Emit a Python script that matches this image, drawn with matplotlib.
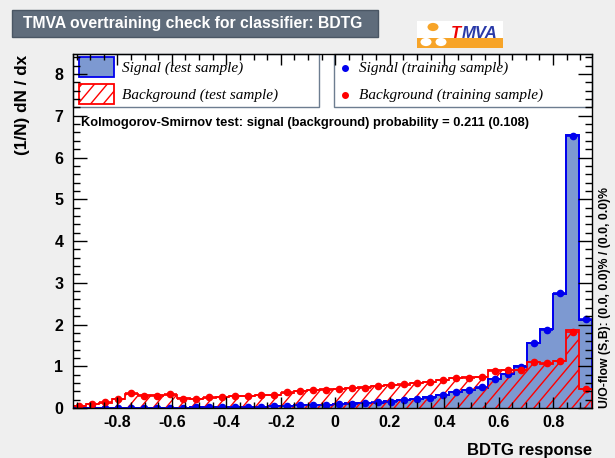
import numpy as np
import matplotlib.pyplot as plt
from matplotlib.patches import Rectangle, Circle
from matplotlib.collections import LineCollection
from matplotlib.transforms import IdentityTransform
from matplotlib.ticker import MultipleLocator, FuncFormatter

plt.rcParams['font.family'] = ['Liberation Sans', 'DejaVu Sans']
plt.rcParams['font.weight'] = 'bold'
plt.rcParams['axes.unicode_minus'] = False

# BDTG response range and binning
x_lo, x_hi = -0.963, 0.943
n_bins = 40

sig_test = [0.01, 0.01, 0.01, 0.01, 0.01, 0.01, 0.01, 0.01, 0.01, 0.02,
            0.02, 0.02, 0.03, 0.03, 0.03, 0.04, 0.05, 0.06, 0.07, 0.08,
            0.09, 0.11, 0.12, 0.13, 0.16, 0.18, 0.22, 0.26, 0.30, 0.39,
            0.44, 0.49, 0.70, 0.82, 1.00, 1.56, 1.89, 2.74, 6.55, 2.10]
sig_train = [0.01, 0.01, 0.01, 0.01, 0.01, 0.01, 0.01, 0.01, 0.01, 0.02,
             0.02, 0.02, 0.03, 0.03, 0.03, 0.04, 0.05, 0.06, 0.07, 0.08,
             0.09, 0.10, 0.12, 0.14, 0.15, 0.19, 0.22, 0.25, 0.31, 0.38,
             0.43, 0.50, 0.69, 0.81, 0.99, 1.55, 1.88, 2.76, 6.52, 2.13]
bkg_test = [0.05, 0.09, 0.13, 0.22, 0.33, 0.30, 0.30, 0.31, 0.23, 0.22,
            0.25, 0.27, 0.28, 0.29, 0.30, 0.32, 0.37, 0.40, 0.43, 0.45,
            0.46, 0.47, 0.50, 0.52, 0.55, 0.56, 0.60, 0.62, 0.68, 0.72,
            0.74, 0.75, 0.92, 0.91, 0.90, 1.10, 1.06, 1.12, 1.88, 0.46]
bkg_train = [0.056, 0.088, 0.136, 0.21, 0.37, 0.29, 0.29, 0.33, 0.22, 0.22,
             0.26, 0.26, 0.28, 0.29, 0.30, 0.31, 0.38, 0.41, 0.43, 0.44,
             0.45, 0.47, 0.49, 0.53, 0.54, 0.57, 0.59, 0.63, 0.67, 0.73,
             0.73, 0.75, 0.89, 0.91, 0.91, 1.09, 1.07, 1.13, 1.83, 0.45]

edges = np.linspace(x_lo, x_hi, n_bins + 1)
centers = 0.5 * (edges[:-1] + edges[1:])
half_w = 0.5 * (edges[1] - edges[0])

W, H = 615, 458
fig = plt.figure(figsize=(W / 100, H / 100), dpi=100, facecolor='#efefef')


def fx(x):
    return x / W


def fy(y):
    return 1 - y / H


def root_hatch(axes, clip_patch, color, spacing=12.7, angle=50):
    # ROOT style 3554 hatching: single direction lines, clipped to a patch
    run = H / np.tan(np.radians(angle))
    offs = np.arange(-run - spacing, W + spacing, spacing)
    segs = [[(o, 0), (o + run, H)] for o in offs]
    lc = LineCollection(segs, colors=color, linewidths=1, transform=IdentityTransform(),
                        zorder=clip_patch.get_zorder())
    axes.add_collection(lc, autolim=False)
    lc.set_clip_path(clip_patch)


ax = fig.add_axes([fx(73), fy(408), fx(592) - fx(73), fy(54) - fy(408)])
ax.set_xlim(x_lo, x_hi)
ax.set_ylim(0, 8.48)
ax.set_axisbelow(False)

ax.stairs(sig_test, edges, fill=True, facecolor='#7d99d1', edgecolor='#0000ee', lw=1.3, zorder=1.0)
ax.stairs(sig_test, edges, baseline=None, color='#0000ee', lw=1.3, zorder=1.05)
bkg_fill = ax.stairs(bkg_test, edges, fill=True, facecolor='none', edgecolor='none', zorder=1.1)
root_hatch(ax, bkg_fill, '#ff0000')
ax.stairs(bkg_test, edges, color='#ff0000', lw=1.3, zorder=1.15)
ax.errorbar(centers, sig_train, xerr=half_w, fmt='o', ms=4.5, color='#0000ee', lw=1.2, zorder=1.2)
ax.errorbar(centers, bkg_train, xerr=half_w, fmt='o', ms=4.5, color='#ff0000', lw=1.2, zorder=1.2)

ax.xaxis.set_major_locator(MultipleLocator(0.2))
ax.xaxis.set_minor_locator(MultipleLocator(0.05))
ax.yaxis.set_major_locator(MultipleLocator(1))
ax.yaxis.set_minor_locator(MultipleLocator(0.2))
ax.xaxis.set_major_formatter(FuncFormatter(lambda v, p: '%g' % round(v, 2)))
ax.xaxis.set_tick_params(which='major', direction='in', top=True, length=8, width=1, labelsize=11.5, pad=5)
ax.xaxis.set_tick_params(which='minor', direction='in', top=True, length=4, width=1)
ax.yaxis.set_tick_params(which='major', direction='in', right=True, length=10, width=1, labelsize=11.5, pad=7)
ax.yaxis.set_tick_params(which='minor', direction='in', right=True, length=5, width=1)
for s in ax.spines.values():
    s.set_linewidth(1)
    s.set_zorder(3)

ax.text(1.0, -0.1, 'BDTG response', transform=ax.transAxes, ha='right', va='top', fontsize=12)
fig.text(fx(23), fy(55), '(1/N) dN / dx', rotation=90, ha='center', va='top', fontsize=12.3)
fig.text(fx(605), fy(408), 'U/O-flow (S,B): (0.0, 0.0)% / (0.0, 0.0)%', rotation=90,
         ha='center', va='bottom', fontsize=8.8)
fig.text(fx(81), fy(123), 'Kolmogorov-Smirnov test: signal (background) probability = 0.211 (0.108)',
         ha='left', va='center', fontsize=9.3)

# legends
box_col = '#6d7d90'
tf = fig.transFigure
for x0, x1 in [(73, 319), (334, 592)]:
    ax.add_patch(Rectangle((fx(x0), fy(107)), fx(x1) - fx(x0), fy(54) - fy(107), transform=tf,
                           facecolor='white', edgecolor=box_col, lw=1, zorder=1.3, clip_on=False))
ax.add_patch(Rectangle((fx(79), fy(77)), fx(114) - fx(79), fy(57) - fy(77), transform=tf,
                       facecolor='#7d99d1', edgecolor='#0000ee', lw=1.3, zorder=1.35, clip_on=False))
sw = Rectangle((fx(79), fy(104)), fx(114) - fx(79), fy(84) - fy(104), transform=tf,
               facecolor='white', edgecolor='#ff0000', lw=1.3, zorder=1.35, clip_on=False)
ax.add_patch(sw)
root_hatch(ax, sw, '#ff0000')
ax.plot([fx(345)], [fy(68)], 'o', ms=4, color='#0000ee', transform=tf, zorder=1.35, clip_on=False)
ax.plot([fx(345)], [fy(95)], 'o', ms=4, color='#ff0000', transform=tf, zorder=1.35, clip_on=False)
leg_font = dict(family='Liberation Serif', style='italic', weight='normal', fontsize=11, va='center', ha='left')
fig.text(fx(122), fy(68), 'Signal (test sample)', **leg_font)
fig.text(fx(122), fy(95), 'Background (test sample)', **leg_font)
fig.text(fx(359), fy(68), 'Signal (training sample)', **leg_font)
fig.text(fx(359), fy(95), 'Background (training sample)', **leg_font)

# title box
fig.patches.append(Rectangle((fx(12), fy(37)), fx(378) - fx(12), fy(10) - fy(37), transform=tf,
                             facecolor='#5f6c7b', edgecolor='#4a5664', lw=1))
fig.text(fx(23), fy(23.5), 'TMVA overtraining check for classifier: BDTG', color='white',
         ha='left', va='center', fontsize=11.3)

# logo
fig.patches.append(Rectangle((fx(417), fy(48)), fx(503) - fx(417), fy(21) - fy(48), transform=tf,
                             facecolor='white', edgecolor='none'))
fig.patches.append(Rectangle((fx(417), fy(48)), fx(503) - fx(417), fy(38) - fy(48), transform=tf,
                             facecolor='#f7a428', edgecolor='none'))
fig.patches.append(Circle((fx(433), fy(27)), 5.5 / W, transform=tf, facecolor='#f7a428', edgecolor='none'))
fig.patches.append(Circle((fx(426), fy(42)), 5.5 / W, transform=tf, facecolor='white', edgecolor='none'))
fig.patches.append(Circle((fx(441), fy(42)), 5.5 / W, transform=tf, facecolor='white', edgecolor='none'))
fig.text(fx(451), fy(34), 'T', color='#ee0000', style='italic', fontsize=12, ha='left', va='center')
fig.text(fx(462), fy(34), 'MVA', color='#2a3aa8', style='italic', fontsize=12, ha='left', va='center')

fig.savefig('out.png', dpi=100, facecolor=fig.get_facecolor())
